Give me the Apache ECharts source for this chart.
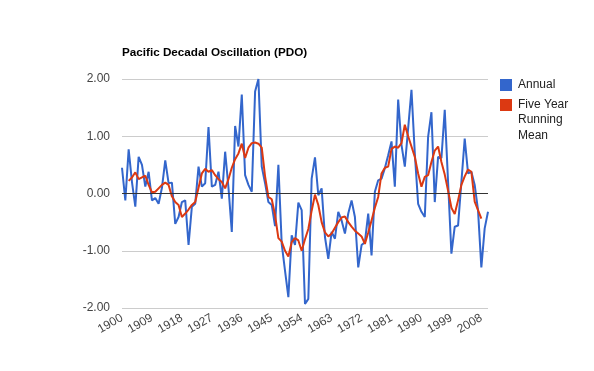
<!DOCTYPE html>
<html>
<head>
<meta charset="utf-8">
<script src="https://cdn.jsdelivr.net/npm/echarts@6/dist/echarts.min.js"></script>
<style>
html,body{margin:0;padding:0;background:#fff;}
#chart{width:594px;height:371px;}
</style>
</head>
<body>
<div id="chart"></div>
<script>
var startYear = 1900;
var endYear = 2010;
var years = [];
for (var y = startYear; y <= endYear; y++) years.push(String(y));

var annual = [
  0.45, -0.12, 0.77, 0.20, -0.23, 0.64, 0.50, 0.12, 0.38, -0.12,
  -0.08, -0.18, 0.10, 0.58, 0.18, 0.19, -0.53, -0.41, -0.15, -0.12,
  -0.90, -0.23, -0.18, 0.47, 0.12, 0.18, 1.16, 0.12, 0.15, 0.38,
  -0.09, 0.73, 0.10, -0.67, 1.18, 0.82, 1.73, 0.32, 0.15, 0.03,
  1.78, 2.00, 0.47, 0.18, -0.15, -0.20, -0.57, 0.50, -0.88, -1.35,
  -1.81, -0.73, -0.90, -0.16, -0.29, -1.93, -1.84, 0.26, 0.63, -0.03,
  0.09, -0.76, -1.14, -0.67, -0.79, -0.32, -0.47, -0.70, -0.35, -0.12,
  -0.41, -1.29, -0.90, -0.85, -0.35, -1.08, 0.03, 0.23, 0.26, 0.44,
  0.67, 0.91, 0.12, 1.64, 0.85, 0.47, 1.14, 1.81, 0.70, -0.18,
  -0.32, -0.41, 0.99, 1.42, -0.15, 0.64, 0.62, 1.46, 0.20, -1.05,
  -0.58, -0.56, 0.20, 0.96, 0.35, 0.38, 0.15, -0.29, -1.29, -0.61,
  -0.32
];

var runningMean = [
  null, null, 0.22, 0.28, 0.37, 0.25, 0.28, 0.31, 0.15, 0.02,
  0.03, 0.09, 0.15, 0.19, 0.15, -0.05, -0.15, -0.20, -0.41, -0.35,
  -0.28, -0.20, -0.15, 0.10, 0.35, 0.43, 0.38, 0.41, 0.32, 0.25,
  0.20, 0.09, 0.25, 0.45, 0.60, 0.70, 0.87, 0.62, 0.80, 0.88,
  0.89, 0.87, 0.80, 0.30, -0.06, -0.10, -0.38, -0.78, -0.84, -1.00,
  -1.10, -0.85, -0.78, -0.82, -1.00, -0.80, -0.62, -0.30, -0.02, -0.20,
  -0.50, -0.68, -0.75, -0.70, -0.60, -0.50, -0.42, -0.40, -0.50, -0.58,
  -0.65, -0.70, -0.75, -0.88, -0.68, -0.47, -0.25, -0.06, 0.35, 0.45,
  0.47, 0.78, 0.82, 0.80, 0.88, 1.20, 1.00, 0.82, 0.64, 0.35,
  0.12, 0.29, 0.32, 0.55, 0.75, 0.82, 0.55, 0.33, 0.05, -0.25,
  -0.36, -0.12, 0.15, 0.30, 0.42, 0.38, -0.14, -0.29, -0.44, null,
  null
];

var yTicks = [-2, -1, 0, 1, 2];

var chart = echarts.init(document.getElementById('chart'));
chart.setOption({
  animation: false,
  backgroundColor: '#fff',
  title: {
    text: 'Pacific Decadal Oscillation (PDO)',
    left: 122, top: 47, padding: 0,
    textStyle: {fontFamily: 'Liberation Sans, Arial', fontSize: 11.7, fontWeight: 'bold', color: '#000'}
  },
  legend: {
    orient: 'vertical',
    left: 500, top: 79, padding: 0,
    itemWidth: 12, itemHeight: 12, itemGap: 8,
    icon: 'rect',
    data: ['Annual', 'Five Year Running Mean'],
    formatter: function (n) { return n === 'Five Year Running Mean' ? 'Five Year' : n; },
    textStyle: {fontFamily: 'Liberation Sans, Arial', fontSize: 12, color: '#222', padding: [0, 0, 0, 1]}
  },
  graphic: [{
    type: 'text', left: 518, top: 112,
    style: {text: 'Running\nMean', fontFamily: 'Liberation Sans, Arial', fontSize: 12, lineHeight: 16, fill: '#222'}
  }],
  grid: {left: 122, right: 106, top: 79, bottom: 63},
  xAxis: {
    type: 'category',
    data: years,
    boundaryGap: false,
    axisLine: {show: false},
    axisTick: {show: false},
    splitLine: {show: false},
    axisLabel: {
      interval: 8, rotate: 30, margin: 9,
      fontFamily: 'Liberation Sans, Arial', fontSize: 12, color: '#444'
    }
  },
  yAxis: {
    type: 'value',
    min: yTicks[0], max: yTicks[yTicks.length - 1], interval: 1,
    axisLine: {show: false},
    axisTick: {show: false},
    splitLine: {lineStyle: {color: '#ccc', width: 1}},
    axisLabel: {
      margin: 12,
      formatter: function (v) { return v.toFixed(2); },
      fontFamily: 'Liberation Sans, Arial', fontSize: 12, color: '#444'
    }
  },
  series: [{
    name: 'Annual',
    type: 'line',
    data: annual,
    showSymbol: false,
    symbol: 'none',
    color: '#3366cc',
    lineStyle: {width: 2, color: '#3366cc'},
    markLine: {
      silent: true, symbol: 'none', label: {show: false},
      lineStyle: {color: '#333', width: 1, type: 'solid'},
      data: [{yAxis: 0}]
    },
    z: 2
  }, {
    name: 'Five Year Running Mean',
    type: 'line',
    data: runningMean,
    showSymbol: false,
    symbol: 'none',
    connectNulls: false,
    color: '#dc3912',
    lineStyle: {width: 2, color: '#dc3912'},
    z: 3
  }]
});
</script>
</body>
</html>
